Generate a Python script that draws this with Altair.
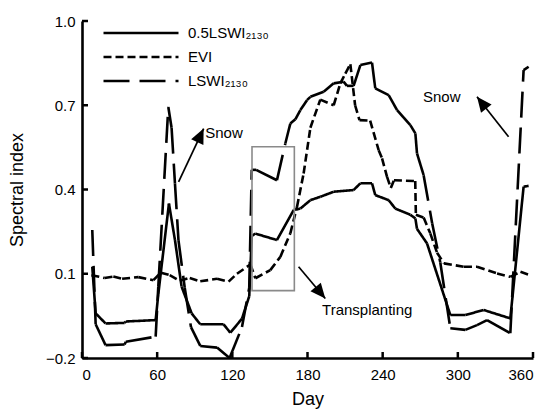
import math
import altair as alt
import pandas as pd

# ---------------- data ----------------
series_names = ["0.5LSWI\u2082\u2081\u2083\u2080", "EVI", "LSWI\u2082\u2081\u2083\u2080"]

half_day = [8.2, 10.9, 18.8, 34, 35, 58.8, 60.9, 69.4, 74.2, 79.5, 87.5, 94.4, 113, 118.4,
            127.7, 133.5, 135.5, 138.4, 155.6, 169, 174.3, 182.3, 190.2, 200.9, 216.8, 222.2,
            231.5, 234.1, 244.8, 250.1, 262.1, 266.1, 267.4, 275.4, 294, 306, 320.6, 341.9,
            352.5, 356.5]
half_val = [0.125, -0.041, -0.077, -0.075, -0.07, -0.065, 0.027, 0.35, 0.22, 0.054, -0.041,
            -0.08, -0.08, -0.11, -0.06, 0.02, 0.235, 0.243, 0.22, 0.327, 0.332, 0.362, 0.374,
            0.392, 0.398, 0.422, 0.422, 0.38, 0.362, 0.332, 0.31, 0.297, 0.26, 0.208, -0.047,
            -0.047, -0.029, -0.059, 0.41, 0.413]

evi_day = [7.5, 18, 25, 32, 45, 57, 63, 70, 78, 86, 94.4, 107.8, 117, 123.7, 134.4, 138.4,
           150.3, 158.3, 166.3, 171.6, 176.9, 182.3, 190.2, 200.9, 206.2, 210.2, 214.2, 218,
           221.5, 230, 236.8, 239.5, 243.5, 246.5, 249, 266, 266.5, 272.7, 278, 283.4, 288.9,
           304.9, 315.3, 331.3, 341.9, 350, 357.7]
evi_val = [0.095, 0.085, 0.09, 0.082, 0.088, 0.077, 0.104, 0.095, 0.075, 0.085, 0.073, 0.082,
           0.072, 0.1, 0.133, 0.084, 0.113, 0.16, 0.244, 0.338, 0.457, 0.62, 0.72, 0.70, 0.778,
           0.813, 0.846, 0.70, 0.647, 0.645, 0.54, 0.511, 0.445, 0.405, 0.433, 0.43, 0.31, 0.30,
           0.244, 0.175, 0.137, 0.125, 0.125, 0.101, 0.089, 0.107, 0.095]

lswi_day = [8.2, 10.9, 18.8, 34, 35, 58.8, 60.9, 68.9, 71.5, 74.2, 77, 82, 87, 94.4, 107.8,
            117.8, 127.7, 133.5, 135.5, 139, 155.6, 162.3, 166.3, 170.3, 174.3, 179.6, 182.3,
            192.9, 200.9, 208.8, 211.5, 216.8, 222.2, 231.5, 234.1, 244.8, 251.5, 262.1, 266.1,
            267.4, 272.7, 279.5, 286, 294, 306, 315.3, 323.3, 341.9, 352.5, 356.5]
lswi_val = [0.256, -0.08, -0.154, -0.152, -0.142, -0.124, 0.054, 0.694, 0.62, 0.422, 0.22,
            0.05, -0.09, -0.157, -0.163, -0.2, -0.09, 0.05, 0.47, 0.47, 0.433, 0.564, 0.635,
            0.65, 0.683, 0.718, 0.73, 0.748, 0.778, 0.784, 0.769, 0.769, 0.843, 0.852, 0.76,
            0.736, 0.683, 0.629, 0.6, 0.529, 0.451, 0.28, 0.14, -0.094, -0.1, -0.083, -0.065,
            -0.112, 0.825, 0.837]

x_ticks = [0, 60, 120, 180, 240, 300, 360]
y_ticks = [-0.2, 0.1, 0.4, 0.7, 1.0]

# annotations (data units)
label_text = ["Snow", "Snow", "Transplanting"]
label_day = [98.4, 272.2, 191.6]
label_val = [0.60, 0.73, -0.03]

arrow_tail_day = [77.1, 340.5, 172.9]
arrow_tail_val = [0.427, 0.588, 0.125]
arrow_tip_day = [97.1, 315.3, 194.2]
arrow_tip_val = [0.617, 0.73, 0.012]

box_day = [135.7, 169.5]
box_val = [0.04, 0.552]

# ---------------- chart ----------------
W, H = 451, 337
FONT = "Liberation Sans"

rows = []
for name, days, vals in [(series_names[0], half_day, half_val),
                         (series_names[1], evi_day, evi_val),
                         (series_names[2], lswi_day, lswi_val)]:
    for i, (d, v) in enumerate(zip(days, vals)):
        rows.append({"series": name, "order": i, "day": d, "value": v})
df = pd.DataFrame(rows)

xs = alt.Scale(domain=[0, 360], nice=False, zero=False)
ys = alt.Scale(domain=[-0.2, 1.0], nice=False, zero=False)

lines = alt.Chart(df).transform_window(
    next_day="lead(day)", next_value="lead(value)",
    groupby=["series"], sort=[alt.SortField("order")]
).transform_filter("datum.next_day != null").mark_rule(
    strokeWidth=2.6, color="black", strokeCap="butt"
).encode(
    x=alt.X("day:Q", scale=xs, title="Day",
            axis=alt.Axis(values=x_ticks, ticks=False, labelPadding=9, titlePadding=8,
                          grid=False)),
    x2="next_day:Q",
    y=alt.Y("value:Q", scale=ys, title="Spectral index",
            axis=alt.Axis(values=y_ticks, format=".1f", ticks=False, labelPadding=7,
                          titlePadding=19, grid=False)),
    y2="next_value:Q",
    strokeDash=alt.StrokeDash(
        "series:N",
        scale=alt.Scale(domain=series_names, range=[[1, 0], [8, 4], [26, 10]]),
        legend=alt.Legend(title=None, orient="none", legendX=50, legendY=3,
                          symbolType="M-5,0L5,0", symbolSize=225, symbolStrokeWidth=2.6,
                          symbolStrokeColor="black", labelFontSize=15, labelFont=FONT,
                          labelColor="black", labelOffset=38, rowPadding=7),
    ),
)

xt = pd.DataFrame({"t": x_ticks})
yt = pd.DataFrame({"t": y_ticks})
xtick_marks = alt.Chart(xt).mark_rule(color="black", strokeWidth=2.5).encode(
    x=alt.X("t:Q", scale=xs), y=alt.value(H), y2=alt.value(H - 6))
ytick_marks = alt.Chart(yt).mark_rule(color="black", strokeWidth=2.5).encode(
    y=alt.Y("t:Q", scale=ys), x=alt.value(0), x2=alt.value(6))

box_df = pd.DataFrame({"x1": [box_day[0]], "x2": [box_day[1]],
                       "y1": [box_val[0]], "y2": [box_val[1]]})
box = alt.Chart(box_df).mark_rect(fill=None, stroke="#8a8a8a", strokeWidth=1.6).encode(
    x=alt.X("x1:Q", scale=xs), x2="x2:Q", y=alt.Y("y1:Q", scale=ys), y2="y2:Q")

# arrow heads: angle from the pixel direction of each arrow
px_day = W / 360.0
px_val = H / 1.2
angles = []
for td, tv, hd, hv in zip(arrow_tail_day, arrow_tail_val, arrow_tip_day, arrow_tip_val):
    dx = (hd - td) * px_day
    dy = -(hv - tv) * px_val
    ang = math.degrees(math.atan2(dx, -dy)) % 360
    angles.append(ang)

arr_df = pd.DataFrame({"td": arrow_tail_day, "tv": arrow_tail_val,
                       "hd": arrow_tip_day, "hv": arrow_tip_val, "ang": angles})
shafts = alt.Chart(arr_df).mark_rule(color="black", strokeWidth=1.7).encode(
    x=alt.X("td:Q", scale=xs), x2="hd:Q", y=alt.Y("tv:Q", scale=ys), y2="hv:Q")
heads = alt.Chart(arr_df).mark_point(
    shape="M0,0L-0.9,2L0.9,2Z", filled=True, color="black", opacity=1, size=225,
    strokeWidth=0
).encode(x=alt.X("hd:Q", scale=xs), y=alt.Y("hv:Q", scale=ys),
         angle=alt.Angle("ang:Q", scale=None))

lab_df = pd.DataFrame({"t": label_text, "d": label_day, "v": label_val})
labels = alt.Chart(lab_df).mark_text(
    align="left", baseline="middle", fontSize=15, font=FONT, color="black"
).encode(x=alt.X("d:Q", scale=xs), y=alt.Y("v:Q", scale=ys), text="t:N")

chart = alt.layer(lines, xtick_marks, ytick_marks, box, shafts, heads, labels).properties(
    width=W, height=H,
    autosize=alt.AutoSizeParams(type="none"),
    padding={"left": 82, "top": 21, "right": 13, "bottom": 54},
).configure_view(stroke=None).configure_axis(
    domainColor="black", domainWidth=2.6, labelFont=FONT, labelFontSize=15,
    labelColor="black", titleFont=FONT, titleFontSize=18, titleFontWeight="normal",
    titleColor="black"
)

chart.save("out.html", embed_options={"renderer": "svg", "actions": False})
